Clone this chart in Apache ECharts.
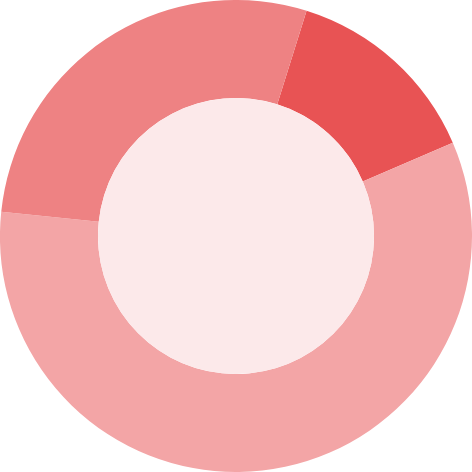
<!DOCTYPE html>
<html><head><meta charset="utf-8">
<script src="https://cdn.jsdelivr.net/npm/echarts@6/dist/echarts.min.js"></script>
<style>html,body{margin:0;padding:0;background:#fff}#c{width:472px;height:472px}</style>
</head><body><div id="c"></div>
<script>
const categories = ['A', 'B', 'C'];
const values = [13.7, 58.1, 28.2];
const colors = ['#E85354', '#F3A5A6', '#EE8283'];
const chart = echarts.init(document.getElementById('c'), null, {renderer: 'canvas'});
chart.setOption({
  animation: false,
  series: [
    {
      type: 'pie',
      center: ['50%', '50%'],
      radius: [138, 236],
      startAngle: 72.6,
      clockwise: true,
      label: {show: false},
      labelLine: {show: false},
      silent: true,
      itemStyle: {borderWidth: 0},
      data: categories.map((c, i) => ({name: c, value: values[i], itemStyle: {color: colors[i]}}))
    },
    {
      type: 'pie',
      center: ['50%', '50%'],
      radius: [0, 138],
      silent: true,
      label: {show: false},
      labelLine: {show: false},
      data: [{value: 1, name: 'center', itemStyle: {color: '#FCE9EA'}}]
    }
  ]
});
</script></body></html>
